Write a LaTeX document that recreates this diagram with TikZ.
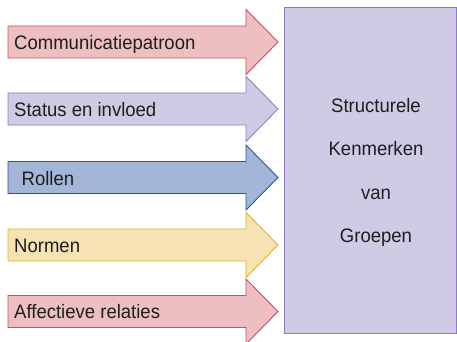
\documentclass[tikz,border=0pt]{standalone}
\usepackage{fontspec}
\setmainfont{Liberation Sans}[FakeStretch=0.95]
\definecolor{pinkf}{HTML}{EEBFC0}
\definecolor{pinkd}{HTML}{CF4B5E}
\definecolor{lavf}{HTML}{D1CAE5}
\definecolor{lavd}{HTML}{8D7DC2}
\definecolor{bluef}{HTML}{A4B6D7}
\definecolor{blued}{HTML}{1B5C9E}
\definecolor{yelf}{HTML}{F6E2B3}
\definecolor{yeld}{HTML}{E0B322}
\definecolor{txt}{HTML}{1E1E1E}
\tikzset{
  arrowshape/.style={line width=0.9pt, line join=miter},
  lbl/.style={anchor=base west, inner sep=0pt, font=\fontsize{19.5}{22}\selectfont, text=txt},
  rtxt/.style={anchor=base, inner sep=0pt, font=\fontsize{19.5}{22}\selectfont, text=txt},
  bigbox/.style={draw=lavd, fill=lavf, line width=0.9pt, anchor=north west, inner sep=0pt, outer sep=0pt}
}
\newcommand\mybigarrow[3]{%
  \draw[arrowshape, fill=#2, draw=#3] (8,#1-16) -- (246,#1-16) -- (246,#1-32.5) -- (278,#1) -- (246,#1+32.5) -- (246,#1+16) -- (8,#1+16) -- cycle;}
\begin{document}
\begin{tikzpicture}[x=1pt,y=-1pt]
\useasboundingbox (0,0) rectangle (457,342);
\node[bigbox, minimum width=172pt, minimum height=326pt] (box) at (284,7) {};
\node[rtxt] (t1) at (376,112) {Structurele};
\node[rtxt] (t2) at (376,155.5) {Kenmerken};
\node[rtxt] (t3) at (376,199) {van};
\node[rtxt] (t4) at (376,242.5) {Groepen};
\mybigarrow{42}{pinkf}{pinkd}
\mybigarrow{109}{lavf}{lavd}
\mybigarrow{177.5}{bluef}{blued}
\mybigarrow{245}{yelf}{yeld}
\mybigarrow{311.5}{pinkf}{pinkd}
\node[lbl] (l1) at (14,49.3) {Communicatiepatroon};
\node[lbl] (l2) at (14,116.3) {Status en invloed};
\node[lbl] (l3) at (21.5,185) {Rollen};
\node[lbl] (l4) at (14,252.3) {Normen};
\node[lbl] (l5) at (14,318.8) {Affectieve relaties};
\end{tikzpicture}
\end{document}
